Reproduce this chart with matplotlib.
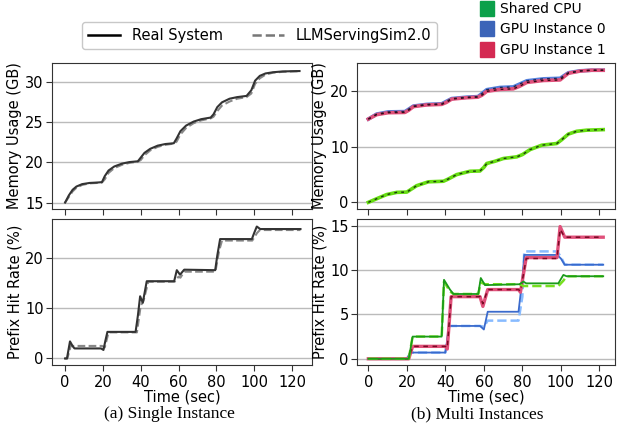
import matplotlib
matplotlib.use('Agg')
import matplotlib.pyplot as plt
from matplotlib.lines import Line2D
from matplotlib.patches import Patch

# ── (a) single instance : memory usage (GB) ──────────────────
mem_t = [0, 2, 4, 6, 9, 13, 17, 19.5, 21, 23, 26, 30, 34, 38.5, 40, 42, 45, 49, 53, 57.5,
         59, 61, 64, 68, 72, 77, 78.5, 80.5, 83, 87, 91, 96, 98.5, 100.5, 103, 106, 110, 115, 120, 124]
mem_real = [15.0, 15.9, 16.6, 17.0, 17.3, 17.45, 17.5, 17.55, 18.3, 19.0, 19.5, 19.85, 20.05, 20.15,
            20.6, 21.2, 21.7, 22.1, 22.3, 22.4, 23.0, 23.9, 24.6, 25.1, 25.4, 25.6, 26.0, 26.9,
            27.5, 27.95, 28.15, 28.3, 29.0, 30.2, 30.8, 31.1, 31.25, 31.35, 31.38, 31.4]
mem_sim = [15.0, 15.7, 16.4, 16.85, 17.2, 17.4, 17.45, 17.5, 17.9, 18.7, 19.3, 19.7, 19.95, 20.1,
           20.3, 20.9, 21.5, 21.95, 22.2, 22.35, 22.6, 23.5, 24.3, 24.9, 25.25, 25.5, 25.7, 26.4,
           27.1, 27.6, 27.95, 28.15, 28.6, 29.8, 30.5, 30.95, 31.2, 31.3, 31.35, 31.38]

# ── (a) single instance : prefix hit rate (%) ────────────────
hit_real_t = [0, 1, 2.6, 4.1, 5, 19, 20.3, 21.3, 22.4, 37.3, 38.5, 39.7, 41.1, 43.2, 57.7, 59.1,
              60.8, 63, 79.4, 80.5, 82, 98.8, 100, 101.4, 103.2, 124.5]
hit_real = [0, 0, 3.4, 2.4, 2.0, 2.0, 1.7, 3.5, 5.3, 5.3, 8.5, 12.4, 11.1, 15.4, 15.4, 17.6,
            16.7, 17.7, 17.6, 20.5, 23.8, 23.8, 25.0, 26.3, 25.8, 25.8]
hit_sim_t = [0, 1.2, 3, 4, 19.5, 21, 23, 38, 40, 41.5, 44, 58, 60, 61, 63, 79.5, 81.5, 83,
             99, 101.5, 103, 124.5]
hit_sim = [0, 0, 2.5, 2.5, 2.5, 2.2, 5.2, 5.2, 10.5, 11.5, 15.3, 15.3, 16.3, 16.1, 17.3, 17.3,
           21.5, 23.5, 23.5, 25.0, 25.6, 25.6]

# ── (b) multi instances : memory usage (GB) ──────────────────
gmem_t = [0, 4.3, 10.4, 19, 21, 23.4, 30.3, 38.1, 40.5, 43.3, 51.1, 56.9, 59, 61.5, 68.4, 75.3,
          78.5, 82.3, 90.9, 99.6, 101.5, 103.9, 110, 116, 122]
gpu0_mem = [15.0, 15.9, 16.3, 16.35, 16.8, 17.35, 17.65, 17.75, 18.2, 18.7, 18.95, 19.05, 19.6,
            20.3, 20.7, 20.8, 21.3, 21.9, 22.25, 22.35, 22.8, 23.35, 23.7, 23.8, 23.8]
gpu1_mem = [15.0, 15.8, 16.15, 16.2, 16.6, 17.25, 17.55, 17.65, 18.0, 18.6, 18.85, 18.95, 19.3,
            20.0, 20.35, 20.45, 20.9, 21.6, 21.95, 22.05, 22.6, 23.25, 23.65, 23.8, 23.8]
cpu_mem_t = [0, 4, 9.5, 14.8, 20, 22, 25.1, 31.2, 39, 41.5, 45.9, 52.8, 58, 60, 61.5, 65.8, 70.1,
             77.1, 80, 84, 90.1, 97.9, 100.5, 103.9, 108.2, 113.4, 122]
cpu_mem = [0, 0.6, 1.4, 1.8, 1.85, 2.3, 3.0, 3.7, 3.8, 4.2, 5.0, 5.6, 5.65, 6.3, 7.0, 7.4, 7.9,
           8.2, 8.6, 9.5, 10.3, 10.6, 11.3, 12.3, 12.8, 13.0, 13.1]

# ── (b) multi instances : prefix hit rate (%) ────────────────
cpu_hit_t = [0, 21, 23, 38.1, 39.3, 42.4, 44.2, 57.1, 58.4, 60.6, 78.5, 80.5, 82, 98.7, 101.3, 103, 122]
cpu_hit_real = [0, 0, 2.5, 2.5, 8.9, 7.8, 7.3, 7.3, 9.1, 8.3, 8.4, 8.7, 8.5, 8.5, 9.45, 9.3, 9.3]
cpu_hit_sim = [0, 0, 2.5, 2.5, 8.7, 7.6, 7.3, 7.3, 8.6, 8.4, 8.4, 8.2, 8.2, 8.2, 8.8, 9.3, 9.3]

gpu1_hit_t = [0, 21, 23, 40, 41, 43, 58, 59.5, 62, 78, 79, 82, 98, 99.6, 102, 122]
gpu1_hit_real = [0, 0, 1.4, 1.4, 1.1, 7.0, 7.0, 5.9, 7.8, 7.8, 7.5, 11.4, 11.4, 14.9, 13.7, 13.7]
gpu1_hit_sim = [0, 0, 1.4, 1.4, 1.2, 7.0, 7.0, 6.2, 7.8, 7.8, 7.6, 11.3, 11.3, 14.6, 13.7, 13.7]

gpu0_hit_t = [0, 20, 22, 40, 42, 58, 60, 62, 78, 80, 81, 98, 100, 102, 122]
gpu0_hit_real = [0, 0, 0.7, 0.7, 3.7, 3.7, 3.3, 5.3, 5.3, 9.0, 11.7, 11.7, 11.3, 10.6, 10.6]
gpu0_hit_sim = [0, 0, 0.7, 0.7, 3.7, 3.7, 3.6, 4.3, 4.3, 7.0, 12.1, 12.1, 11.5, 10.6, 10.6]

xticks = [0, 20, 40, 60, 80, 100, 120]

plt.rcParams['font.family'] = ['DejaVu Sans']
plt.rcParams['font.size'] = 10.5

fig = plt.figure(figsize=(6.23, 4.29), dpi=100)
ax_a1 = fig.add_axes([0.0835, 0.5128, 0.4173, 0.3403])
ax_a2 = fig.add_axes([0.0835, 0.1492, 0.4173, 0.3403])
ax_b1 = fig.add_axes([0.573, 0.5128, 0.4141, 0.3403])
ax_b2 = fig.add_axes([0.573, 0.1492, 0.4141, 0.3403])

# (a)
ax_a1.plot(mem_t, mem_real, color='#333333', lw=1.5, zorder=3)
ax_a1.plot(mem_t, mem_sim, color='#888888', lw=1.5, ls='--', zorder=2)
ax_a2.plot(hit_real_t, hit_real, color='#333333', lw=1.5, zorder=3)
ax_a2.plot(hit_sim_t, hit_sim, color='#888888', lw=1.5, ls='--', zorder=2)

# (b) memory: thick coloured real, dark dashed sim
ax_b1.plot(gmem_t, gpu0_mem, color='#5580dd', lw=2.6)
ax_b1.plot(gmem_t, gpu1_mem, color='#e0507a', lw=2.6)
ax_b1.plot(cpu_mem_t, cpu_mem, color='#66dd11', lw=2.6)
ax_b1.plot(gmem_t, gpu0_mem, color='#1a2a55', lw=1, ls=(0, (2, 3)))
ax_b1.plot(gmem_t, gpu1_mem, color='#3a0a15', lw=1, ls=(0, (2, 3)))
ax_b1.plot(cpu_mem_t, cpu_mem, color='#1a3a10', lw=1, ls=(0, (2, 3)))

# (b) prefix hit rate
ax_b2.plot(gpu0_hit_t, gpu0_hit_sim, color='#88bbff', lw=1.8, ls='--')
ax_b2.plot(gpu0_hit_t, gpu0_hit_real, color='#3a6acc', lw=1.3)
ax_b2.plot(gpu1_hit_t, gpu1_hit_real, color='#e0507a', lw=2.4)
ax_b2.plot(gpu1_hit_t, gpu1_hit_sim, color='#7a0a25', lw=1.1, ls=(0, (3, 3)))
ax_b2.plot(cpu_hit_t, cpu_hit_sim, color='#77e020', lw=1.8, ls='--')
ax_b2.plot(cpu_hit_t, cpu_hit_real, color='#1a9a1a', lw=1.3)

ax_a1.set_ylim(14.2, 32.4)
ax_a1.set_yticks([15, 20, 25, 30])
ax_a2.set_ylim(-1.3, 27.8)
ax_a2.set_yticks([0, 10, 20])
ax_b1.set_ylim(-1.2, 25.1)
ax_b1.set_yticks([0, 10, 20])
ax_b2.set_ylim(-0.7, 15.75)
ax_b2.set_yticks([0, 5, 10, 15])

for ax in (ax_a1, ax_a2):
    ax.set_xlim(-6.9, 130.6)
for ax in (ax_b1, ax_b2):
    ax.set_xlim(-5.9, 128.1)

for ax in (ax_a1, ax_a2, ax_b1, ax_b2):
    ax.set_xticks(xticks)
    ax.grid(axis='y', color='#bbbbbb', lw=1)
    ax.set_axisbelow(True)
    ax.tick_params(length=4, color='#333333', pad=2)
    ax.tick_params(axis='x', pad=3)
    for s in ax.spines.values():
        s.set_color('#333333')
for ax in (ax_a1, ax_b1):
    ax.set_xticklabels([])
    ax.set_ylabel('Memory Usage (GB)', labelpad=2)
for ax in (ax_a2, ax_b2):
    ax.set_xlabel('Time (sec)', labelpad=0)
    ax.set_ylabel('Prefix Hit Rate (%)', labelpad=2)

# legends
style_handles = [Line2D([], [], color='black', lw=1.8),
                 Line2D([], [], color='#777777', lw=1.8, ls='--')]
fig.legend(style_handles, ['Real System', 'LLMServingSim2.0'], loc='center',
           bbox_to_anchor=(0.417, 0.917), ncol=2, frameon=True, fancybox=True,
           edgecolor='#bbbbbb', columnspacing=2.0, handlelength=2.2, fontsize=10.5)

color_handles = [Patch(color='#0ca04a'), Patch(color='#3c64b8'), Patch(color='#d42a52')]
fig.legend(color_handles, ['Shared CPU', 'GPU Instance 0', 'GPU Instance 1'], loc='upper left',
           bbox_to_anchor=(0.757, 1.018), frameon=False, handlelength=1.0, handleheight=1.3,
           handletextpad=0.45, labelspacing=0.38, fontsize=10, borderaxespad=0.2)

fig.text(169 / 623, 1 - 414 / 429, '(a) Single Instance', ha='center', va='center',
         family='Liberation Serif', fontsize=12.5)
fig.text(477 / 623, 1 - 414 / 429, '(b) Multi Instances', ha='center', va='center',
         family='Liberation Serif', fontsize=12.5)

fig.savefig('out.png', dpi=100)
